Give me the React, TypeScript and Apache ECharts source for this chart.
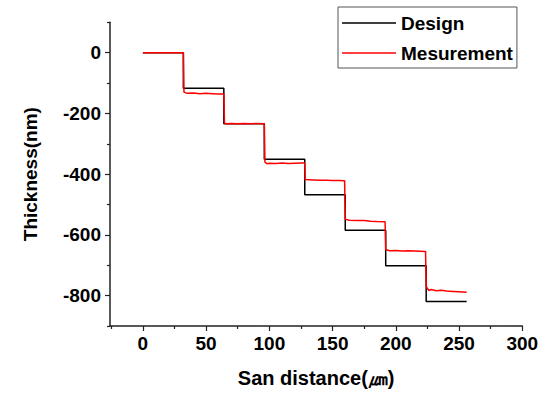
import React, { useEffect, useRef } from "react";
import * as echarts from "echarts";

// Step edges along the scan (µm) and design thickness levels (nm)
const stepEdges = [0, 32, 64, 96, 128, 160, 192, 224, 256];
const designLevels = [0, -117, -234, -351, -468, -585, -702, -819];

const measuredX = [
  0, 32, 32.5, 35, 40, 45, 50, 55, 60, 64,
  64.5, 66, 70, 75, 80, 85, 90, 96,
  96.5, 98, 100, 105, 110, 115, 120, 125, 128,
  128.3, 135, 140, 145, 150, 155, 159.5,
  160, 163, 170, 175, 180, 185, 191.5,
  192, 195, 200, 205, 210, 215, 223.5,
  224, 226, 228, 232, 236, 240, 245, 250, 256,
];
const measuredY = [
  0, 0, -130, -134, -133, -135, -134, -135, -136, -136,
  -232, -234, -233, -234, -233, -234, -233, -234,
  -360, -366, -364, -365, -363, -365, -364, -363, -363,
  -418, -419, -420, -420, -421, -421, -422,
  -548, -552, -553, -553, -555, -556, -557,
  -648, -652, -651, -653, -652, -653, -655,
  -770, -783, -780, -784, -782, -785, -786, -787, -789,
];

const xMajorTicks = [0, 50, 100, 150, 200, 250, 300];
const xMinorTicks = [-25, 25, 75, 125, 175, 225, 275];
const yMajorTicks = [0, -200, -400, -600, -800];
const yMinorTicks = [100, -100, -300, -500, -700, -900];

const FONT = "'Liberation Sans', Arial, sans-serif";

export default function App() {
  const ref = useRef<HTMLDivElement>(null);
  useEffect(() => {
    if (!ref.current) return;
    const chart = echarts.init(ref.current, undefined, { renderer: "svg" });
    const designData: number[][] = [];
    designLevels.forEach((lv, i) => {
      designData.push([stepEdges[i], lv]);
      designData.push([stepEdges[i + 1], lv]);
    });
    const measuredData = measuredX.map((x, i) => [x, measuredY[i]]);
    const axisColor = "#222";
    const xRange = { min: -26, max: 300 };
    const yRange = { min: -900, max: 100 };
    chart.setOption({
      animation: false,
      backgroundColor: "#fff",
      grid: { left: 110, right: 28.7, top: 22.3, bottom: 69 },
      legend: {
        orient: "vertical",
        left: 338,
        top: 7,
        padding: [4, 4, 3, 4],
        itemGap: 6,
        itemWidth: 54,
        itemHeight: 10,
        borderColor: "#555",
        borderWidth: 1,
        textStyle: { fontFamily: FONT, fontWeight: "bold", fontSize: 19, color: "#000", lineHeight: 24 },
        data: [
          { name: "Design", icon: "path://M0,0 L54,0 L54,1.4 L0,1.4 Z" },
          { name: "Mesurement", icon: "path://M0,0 L54,0 L54,1.4 L0,1.4 Z" },
        ],
      },
      xAxis: [
        {
          type: "value",
          ...xRange,
          name: "San distance(㎛)",
          nameLocation: "middle",
          nameGap: 42,
          nameTextStyle: { fontFamily: FONT, fontWeight: "bold", fontSize: 20, color: "#000" },
          splitLine: { show: false },
          axisLine: { show: true, onZero: false, lineStyle: { color: axisColor, width: 1.5 } },
          axisTick: { show: true, inside: false, length: 5, customValues: xMajorTicks, lineStyle: { color: axisColor, width: 1.2 } },
          axisLabel: { customValues: xMajorTicks, margin: 8, fontFamily: FONT, fontWeight: "bold", fontSize: 19, color: "#000" },
        },
        {
          type: "value",
          ...xRange,
          position: "bottom",
          splitLine: { show: false },
          axisLine: { show: false, onZero: false },
          axisTick: { show: true, length: 3, customValues: xMinorTicks, lineStyle: { color: axisColor, width: 1.2 } },
          axisLabel: { show: false },
        },
      ],
      yAxis: [
        {
          type: "value",
          ...yRange,
          name: "Thickness(nm)",
          nameLocation: "middle",
          nameGap: 70,
          nameTextStyle: { fontFamily: FONT, fontWeight: "bold", fontSize: 19, color: "#000" },
          splitLine: { show: false },
          axisLine: { show: true, onZero: false, lineStyle: { color: axisColor, width: 1.5 } },
          axisTick: { show: true, length: 5, customValues: yMajorTicks, lineStyle: { color: axisColor, width: 1.2 } },
          axisLabel: { customValues: yMajorTicks, margin: 9, fontFamily: FONT, fontWeight: "bold", fontSize: 19, color: "#000" },
        },
        {
          type: "value",
          ...yRange,
          position: "left",
          splitLine: { show: false },
          axisLine: { show: false, onZero: false },
          axisTick: { show: true, length: 3, customValues: yMinorTicks, lineStyle: { color: axisColor, width: 1.2 } },
          axisLabel: { show: false },
        },
      ],
      series: [
        {
          name: "Design",
          type: "line",
          data: designData,
          symbol: "none",
          color: "#000",
          lineStyle: { color: "#000", width: 1.5 },
          z: 2,
        },
        {
          name: "Mesurement",
          type: "line",
          data: measuredData,
          symbol: "none",
          color: "#ff0000",
          lineStyle: { color: "#ff0000", width: 1.5 },
          z: 3,
        },
      ],
    });
    return () => chart.dispose();
  }, []);
  return <div ref={ref} style={{ position: "fixed", left: 0, top: 0, width: 551, height: 395 }} />;
}
